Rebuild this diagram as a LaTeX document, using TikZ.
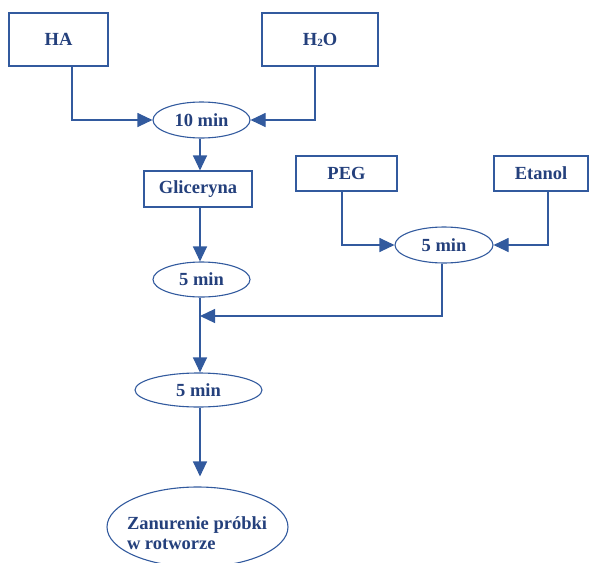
\documentclass[tikz,border=0pt]{standalone}
\usepackage{fontspec}
\setmainfont{Liberation Serif}
\usetikzlibrary{shapes.geometric,arrows.meta}
\definecolor{lc}{RGB}{50,90,158}
\definecolor{tc}{RGB}{36,64,124}
\begin{document}
\begin{tikzpicture}[x=1pt,y=-1pt,
  every node/.style={font=\fontsize{18.5}{20}\selectfont\bfseries, text=tc},
  boxn/.style={draw=lc, line width=1.1pt, rectangle, inner sep=0pt},
  elln/.style={draw=lc, line width=1.1pt, ellipse, inner sep=0pt},
  conn/.style={draw=lc, line width=1.1pt, -{Triangle[length=15pt,width=14pt]}},
  plain/.style={draw=lc, line width=1.1pt}]
\useasboundingbox (0,0) rectangle (590,563);
\node[boxn, minimum width=99pt, minimum height=53pt] (ha) at (58.5,39.5) {HA};
\node[boxn, minimum width=116pt, minimum height=53pt] (h2o) at (320,39.5) {H\raisebox{-1pt}{\fontsize{11}{11}\selectfont 2}O};
\node[elln, minimum width=97pt, minimum height=36pt] (e10) at (201.5,120) {10 min};
\node[boxn, minimum width=108pt, minimum height=36pt] (gl) at (198,189) {Gliceryna};
\node[boxn, minimum width=101pt, minimum height=35pt] (peg) at (346.5,173.5) {PEG};
\node[boxn, minimum width=94pt, minimum height=35pt] (et) at (541,173.5) {Etanol};
\node[elln, minimum width=98pt, minimum height=36pt] (e5b) at (444,245) {5 min};
\node[elln, minimum width=97pt, minimum height=35pt] (e5a) at (201.5,279.5) {5 min};
\node[elln, minimum width=127pt, minimum height=34pt] (e5c) at (198.5,390) {5 min};
\node[elln, minimum width=181pt, minimum height=80pt] (fin) at (197.5,527) {};
\node[align=left, inner sep=0pt] (fintext) at (197,533) {Zanurenie próbki\\w rotworze};
\coordinate (m) at (200,316);
% connectors
\draw[conn] ([xshift=13.5pt]ha.south) |- (e10.west);
\draw[conn] ([xshift=-5pt]h2o.south) |- (e10.east);
\draw[conn] (e10.south -| m) -- (gl.north -| m);
\draw[conn] (gl.south -| m) -- (e5a.north -| m);
\draw[conn] ([xshift=-4.5pt]peg.south) |- (e5b.west);
\draw[conn] ([xshift=7pt]et.south) |- (e5b.east);
\draw[conn] ([xshift=-2pt]e5b.south) |- (m);
\draw[conn] (e5a.south -| m) -- (e5c.north -| m);
\draw[conn, shorten >=10pt] (e5c.south -| m) -- (fin.north -| m);
\end{tikzpicture}
\end{document}
